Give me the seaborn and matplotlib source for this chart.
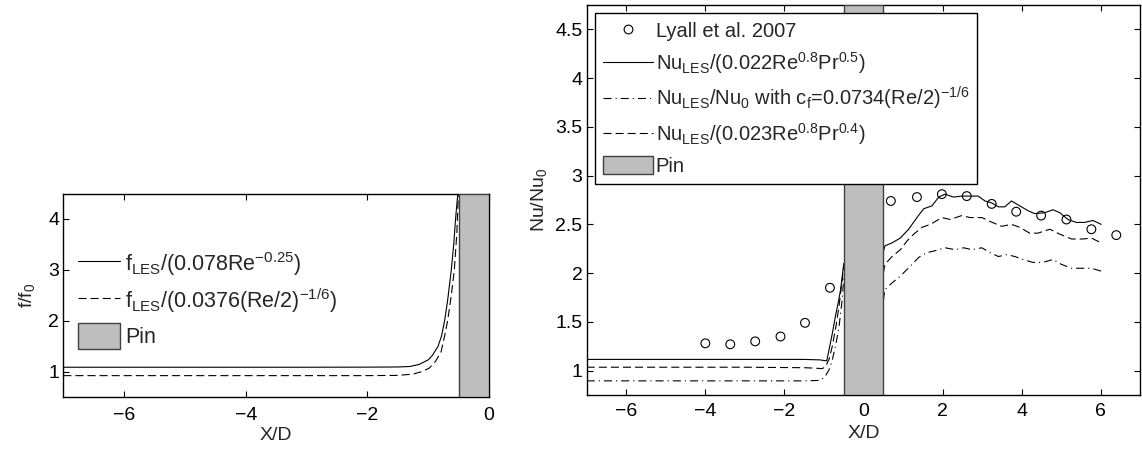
import numpy as np
import pandas as pd
import matplotlib
matplotlib.use("Agg")
import matplotlib.pyplot as plt
import seaborn as sns
from matplotlib.lines import Line2D
from matplotlib.patches import Patch, Rectangle
from matplotlib.ticker import FormatStrFormatter

# ---------------- data ----------------
# left panel: friction factor ratio
f_solid_x = [-7.0, -5.0, -3.0, -2.0, -1.5, -1.3, -1.15, -1.0, -0.93, -0.84, -0.78, -0.73, -0.68, -0.62, -0.58, -0.55, -0.52, -0.5]
f_solid_y = [1.085, 1.085, 1.085, 1.087, 1.09, 1.10, 1.14, 1.23, 1.32, 1.49, 1.70, 2.0, 2.4, 3.0, 3.5, 4.0, 4.4, 4.6]
f_dash_x = [-7.0, -5.0, -3.0, -2.0, -1.5, -1.25, -1.1, -0.98, -0.88, -0.79, -0.73, -0.68, -0.62, -0.57, -0.53, -0.5]
f_dash_y = [0.92, 0.92, 0.92, 0.92, 0.925, 0.95, 1.0, 1.07, 1.2, 1.38, 1.7, 2.0, 2.5, 3.0, 3.7, 4.6]

# right panel: Nusselt number ratio
lyall_x = [-4.0, -3.37, -2.74, -2.1, -1.48, -0.85, 0.69, 1.35, 1.98, 2.61, 3.24, 3.86, 4.49, 5.13, 5.76, 6.39]
lyall_y = [1.28, 1.27, 1.30, 1.35, 1.49, 1.85, 2.74, 2.78, 2.81, 2.79, 2.71, 2.63, 2.59, 2.55, 2.45, 2.39]

nu1_up_x = [-7.0, -5.0, -3.0, -1.5, -1.1, -0.93, -0.87, -0.79, -0.71, -0.64, -0.58, -0.5]
nu1_up_y = [1.115, 1.115, 1.115, 1.115, 1.11, 1.10, 1.22, 1.38, 1.56, 1.70, 1.83, 2.1]
nu1_dn_x = [0.5, 0.54, 0.72, 0.93, 1.14, 1.35, 1.52, 1.73, 1.90, 2.06, 2.27, 2.48, 2.69, 2.90, 3.07, 3.24, 3.41, 3.57, 3.74, 3.95, 4.16, 4.33, 4.58, 4.79, 4.96, 5.17, 5.38, 5.59, 5.80, 6.01]
nu1_dn_y = [2.22, 2.28, 2.31, 2.36, 2.45, 2.57, 2.66, 2.69, 2.78, 2.81, 2.78, 2.79, 2.79, 2.79, 2.74, 2.72, 2.68, 2.68, 2.74, 2.69, 2.64, 2.61, 2.62, 2.65, 2.62, 2.55, 2.52, 2.52, 2.54, 2.50]

nu2_up_x = [-7.0, -5.0, -3.0, -1.5, -1.08, -0.94, -0.86, -0.79, -0.70, -0.62, -0.54, -0.5]
nu2_up_y = [0.895, 0.895, 0.895, 0.895, 0.90, 0.96, 1.02, 1.11, 1.27, 1.45, 1.73, 1.95]
nu2_dn_x = [0.5, 0.54, 0.72, 0.93, 1.18, 1.39, 1.60, 1.81, 2.06, 2.32, 2.53, 2.74, 2.99, 3.20, 3.41, 3.62, 3.83, 4.03, 4.28, 4.53, 4.79, 5.0, 5.26, 5.51, 5.76, 6.01]
nu2_dn_y = [1.72, 1.83, 1.90, 1.97, 2.07, 2.16, 2.21, 2.23, 2.26, 2.24, 2.26, 2.24, 2.26, 2.21, 2.17, 2.19, 2.17, 2.14, 2.11, 2.11, 2.14, 2.09, 2.05, 2.05, 2.05, 2.02]

nu3_up_x = [-7.0, -5.0, -3.0, -1.5, -1.21, -1.05, -0.96, -0.87, -0.79, -0.70, -0.62, -0.52, -0.5]
nu3_up_y = [1.035, 1.035, 1.035, 1.03, 1.025, 1.02, 1.04, 1.12, 1.25, 1.45, 1.66, 2.0, 2.06]
nu3_dn_x = [0.5, 0.54, 0.72, 0.93, 1.10, 1.27, 1.48, 1.69, 1.98, 2.19, 2.48, 2.69, 2.99, 3.20, 3.49, 3.74, 3.95, 4.20, 4.41, 4.71, 4.96, 5.26, 5.55, 5.76, 6.01]
nu3_dn_y = [2.0, 2.09, 2.17, 2.24, 2.33, 2.40, 2.47, 2.50, 2.57, 2.55, 2.59, 2.57, 2.57, 2.53, 2.48, 2.50, 2.47, 2.41, 2.41, 2.45, 2.40, 2.35, 2.35, 2.36, 2.31]

left_xticks = [-6, -4, -2, 0]
left_yticks = [1, 2, 3, 4]
right_xticks = [-6, -4, -2, 0, 2, 4, 6]
right_yticks = [1, 1.5, 2, 2.5, 3, 3.5, 4, 4.5]

lab_f1 = r'f$_{\mathrm{LES}}$/(0.078Re$^{-0.25}$)'
lab_f2 = r'f$_{\mathrm{LES}}$/(0.0376(Re/2)$^{-1/6}$)'
lab_lyall = 'Lyall et al. 2007'
lab_nu1 = r'Nu$_{\mathrm{LES}}$/(0.022Re$^{0.8}$Pr$^{0.5}$)'
lab_nu2 = r'Nu$_{\mathrm{LES}}$/Nu$_0$ with c$_f$=0.0734(Re/2)$^{-1/6}$'
lab_nu3 = r'Nu$_{\mathrm{LES}}$/(0.023Re$^{0.8}$Pr$^{0.4}$)'
lab_pin = 'Pin'

# ---------------- style ----------------
sns.set_theme(style="ticks")
plt.rcParams['font.family'] = ['Liberation Sans', 'DejaVu Sans']
plt.rcParams['mathtext.fontset'] = 'custom'
plt.rcParams['mathtext.rm'] = 'Liberation Sans'
plt.rcParams['mathtext.it'] = 'Liberation Sans'
plt.rcParams['mathtext.default'] = 'regular'
plt.rcParams['font.size'] = 14
plt.rcParams['lines.scale_dashes'] = False
plt.rcParams['axes.unicode_minus'] = True

FS_TICK = 14
FS_LEGL = 15.5
FS_LEGR = 14.5
DASH = (0, (5.8, 2.9))
DASHDOT = (0, (5.8, 2.9, 0.8, 2.9))
LW = 0.8
PIN_FC = '#bebebe'
PIN_EC = '#404040'

fig = plt.figure(figsize=(11.42, 4.5), dpi=100)
W, H = 1142.0, 450.0

def px_axes(x0, y0, x1, y1):
    return fig.add_axes([x0 / W, (H - y1) / H, (x1 - x0) / W, (y1 - y0) / H])

axL = px_axes(63.3, 193.5, 489.0, 397.0)
axR = px_axes(586.7, 5.0, 1140.4, 395.0)

def style_axes(ax, xpad):
    for s in ax.spines.values():
        s.set_color('black')
        s.set_linewidth(1.0)
    ax.tick_params(direction='in', length=4, width=0.8, top=True, right=True,
                   labelsize=FS_TICK, colors='black')
    ax.tick_params(axis='x', pad=xpad)
    ax.tick_params(axis='y', pad=3)
    ax.set_facecolor('white')

# ---------------- left panel ----------------
sns.lineplot(x=f_solid_x, y=f_solid_y, ax=axL, color='black', lw=LW, estimator=None)
sns.lineplot(x=f_dash_x, y=f_dash_y, ax=axL, color='black', lw=LW, linestyle=DASH, estimator=None)
axL.add_patch(Rectangle((-0.5, 0.5), 0.5, 4.0, facecolor=PIN_FC, edgecolor=PIN_EC, lw=1.0, zorder=3))
axL.set_xlim(-7, 0)
axL.set_ylim(0.5, 4.5)
axL.set_xticks(left_xticks)
axL.set_yticks(left_yticks)
style_axes(axL, 7)
axL.set_xlabel('X/D', fontsize=FS_TICK)
axL.set_ylabel(r'f/f$_0$', fontsize=FS_TICK)
axL.xaxis.set_label_coords(0.5, -0.145)
axL.yaxis.set_label_coords(-0.062, 0.5)

hL = [Line2D([], [], color='black', lw=LW),
      Line2D([], [], color='black', lw=LW, linestyle=DASH),
      Patch(facecolor=PIN_FC, edgecolor=PIN_EC, lw=1.0)]
legL = axL.legend(hL, [lab_f1, lab_f2, lab_pin], loc='upper left',
                  bbox_to_anchor=(0.0345, 0.72), frameon=False, fontsize=FS_LEGL,
                  handlelength=1.95, handleheight=1.45, handletextpad=0.25,
                  labelspacing=0.38, borderpad=0, borderaxespad=0)

# ---------------- right panel ----------------
for xs, ys, ls in [(nu1_up_x, nu1_up_y, '-'), (nu1_dn_x, nu1_dn_y, '-'),
                   (nu2_up_x, nu2_up_y, DASHDOT), (nu2_dn_x, nu2_dn_y, DASHDOT),
                   (nu3_up_x, nu3_up_y, DASH), (nu3_dn_x, nu3_dn_y, DASH)]:
    sns.lineplot(x=xs, y=ys, ax=axR, color='black', lw=LW, linestyle=ls, estimator=None)
sns.scatterplot(x=lyall_x, y=lyall_y, ax=axR, marker='o', s=40, facecolors='none',
                edgecolor='black', linewidth=0.8, zorder=4)
axR.add_patch(Rectangle((-0.5, 0.75), 1.0, 4.0, facecolor=PIN_FC, edgecolor=PIN_EC, lw=1.0, zorder=3))
axR.set_xlim(-7, 7)
axR.set_ylim(0.75, 4.75)
axR.set_xticks(right_xticks)
axR.set_yticks(right_yticks)
axR.yaxis.set_major_formatter(FormatStrFormatter('%g'))
style_axes(axR, 6)
axR.set_xlabel('X/D', fontsize=FS_TICK)
axR.set_ylabel(r'Nu/Nu$_0$', fontsize=FS_TICK)
axR.xaxis.set_label_coords(0.5, -0.077)
axR.yaxis.set_label_coords(-0.068, 0.5)

hR = [Line2D([], [], color='black', lw=0, marker='o', markerfacecolor='none',
             markeredgecolor='black', markersize=6.3, markeredgewidth=0.8),
      Line2D([], [], color='black', lw=LW),
      Line2D([], [], color='black', lw=LW, linestyle=DASHDOT),
      Line2D([], [], color='black', lw=LW, linestyle=DASH),
      Patch(facecolor=PIN_FC, edgecolor=PIN_EC, lw=1.0)]
legR = axR.legend(hR, [lab_lyall, lab_nu1, lab_nu2, lab_nu3, lab_pin], loc='upper left',
                  bbox_to_anchor=(0.015, 0.98), frameon=True, fancybox=False,
                  edgecolor='black', framealpha=1.0, fontsize=FS_LEGR,
                  handlelength=2.5, handleheight=1.0, handletextpad=0.12,
                  labelspacing=0.45, borderpad=0.4, borderaxespad=0)
legR.get_frame().set_linewidth(1.0)

fig.savefig('out.png', dpi=100, facecolor='white')
